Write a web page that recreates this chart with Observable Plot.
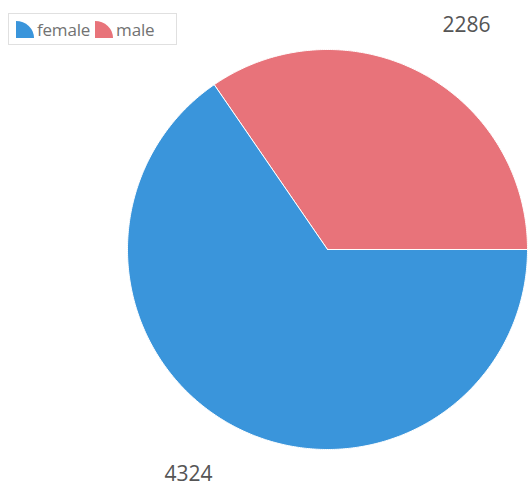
<!DOCTYPE html>
<html>
<head>
<meta charset="utf-8">
<script src="https://cdn.jsdelivr.net/npm/d3@7"></script>
<script src="https://cdn.jsdelivr.net/npm/@observablehq/plot@0.6"></script>
<style>
  body { margin: 0; background: #fff; font-family: "Open Sans", "DejaVu Sans", sans-serif; }
  #wrap { position: relative; width: 528px; height: 487px; }
  #legend { position: absolute; left: 8px; top: 13px; height: 32px; padding: 0 0 0 7px; border: 1px solid #e0e0e0; display: flex; align-items: center; font-size: 17px; color: #727272; box-sizing: border-box; width: 169px; letter-spacing: -0.2px; }
  #legend span.item { display: inline-flex; align-items: center; margin-right: 5px; }
  #legend svg { margin-right: 3px; }
</style>
</head>
<body>
<div id="wrap"><div id="legend"></div></div>
<script>
const categories = ["female", "male"];
const values = [4324, 2286];
const colors = ["#3a95db", "#e8737a"];

// drawing order: counterclockwise from 3 o'clock, male first then female
const order = ["male", "female"];
const total = d3.sum(values);
const slices = [];
let a0 = 0;
for (const c of order) {
  const v = values[categories.indexOf(c)];
  const a1 = a0 + 2 * Math.PI * v / total;
  slices.push({category: c, value: v, a0, a1});
  a0 = a1;
}
// outline geometry for each slice
const outline = [];
for (const s of slices) {
  outline.push({category: s.category, x: 0, y: 0});
  const n = Math.max(2, Math.ceil((s.a1 - s.a0) / 0.01));
  for (let i = 0; i <= n; i++) {
    const t = s.a0 + (s.a1 - s.a0) * i / n;
    outline.push({category: s.category, x: Math.cos(t), y: Math.sin(t)});
  }
  outline.push({category: s.category, x: 0, y: 0});
}
const labels = slices.map(s => {
  const m = (s.a0 + s.a1) / 2 - 0.07;
  return {category: s.category, value: s.value, x: 1.32 * Math.cos(m), y: 1.32 * Math.sin(m)};
});

const chart = Plot.plot({
  width: 528,
  height: 487,
  marginLeft: 127,
  marginRight: 1,
  marginTop: 49,
  marginBottom: 38,
  x: {domain: [-1, 1], axis: null},
  y: {domain: [-1, 1], axis: null},
  color: {domain: categories, range: colors},
  style: {fontFamily: "'Open Sans', 'DejaVu Sans', sans-serif", overflow: "visible"},
  marks: [
    Plot.line(outline, {x: "x", y: "y", z: "category", fill: "category", stroke: "#ffffff", strokeWidth: 1, curve: "linear"}),
    Plot.text(labels, {x: "x", y: "y", text: d => String(d.value), fill: "#555555", fontSize: 21})
  ]
});
document.getElementById("wrap").appendChild(chart);

const legend = document.getElementById("legend");
categories.forEach((c, i) => {
  const item = document.createElement("span");
  item.className = "item";
  item.innerHTML = `<svg width="18" height="17" viewBox="0 0 18 17"><path d="M0,17 L0,0 A18,17 0 0 1 18,17 Z" fill="${colors[i]}"/></svg>${c}`;
  legend.appendChild(item);
});
</script>
</body>
</html>
